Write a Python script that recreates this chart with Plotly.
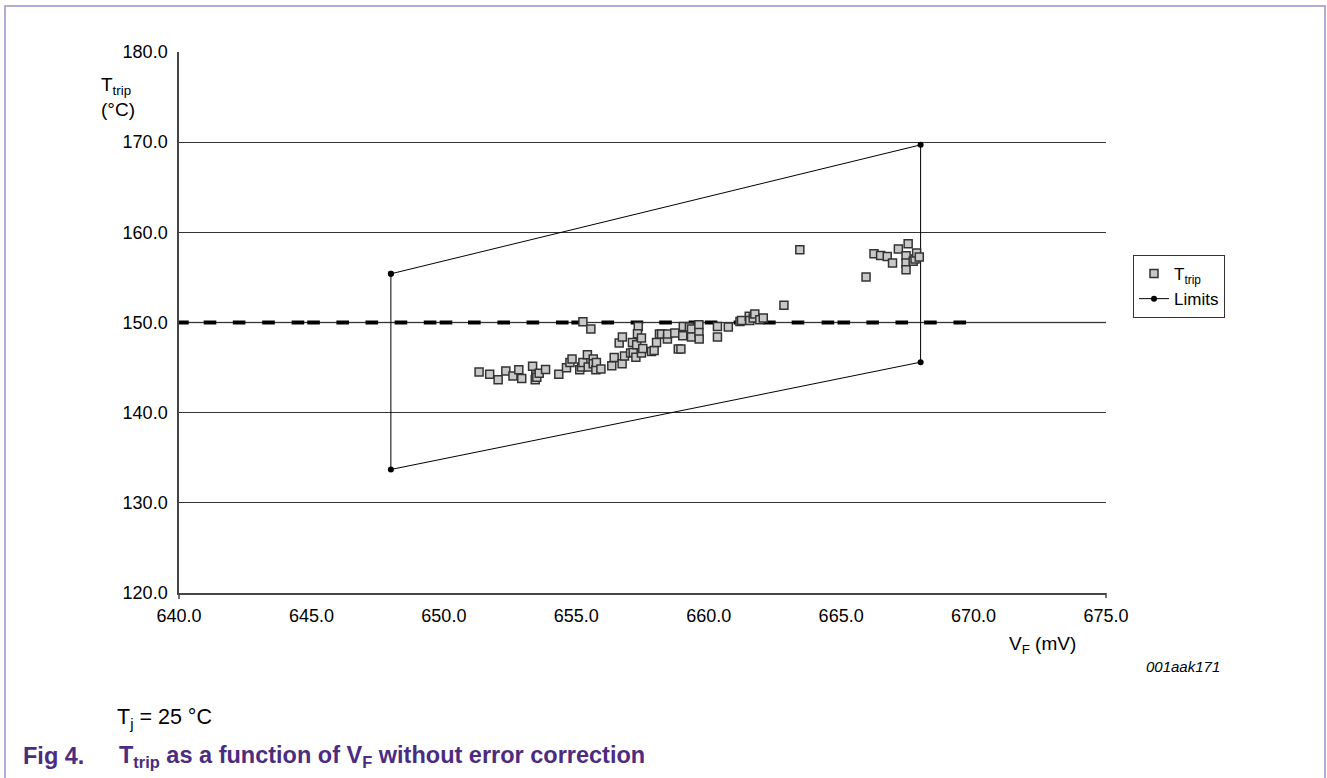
import plotly.graph_objects as go

# ---- data ----
vf_mv = [651.33, 651.73, 652.05, 652.34, 652.61, 652.83, 652.94, 653.35, 653.47, 653.45,
         653.51, 653.60, 653.84, 654.34, 654.63, 654.76, 654.84, 655.13, 655.20, 655.25,
         655.25, 655.42, 655.45, 655.55, 655.64, 655.64, 655.74, 655.76, 655.93, 656.34,
         656.43, 656.62, 656.74, 656.73, 656.82, 657.05, 657.12, 657.15, 657.25, 657.28,
         657.34, 657.31, 657.46, 657.46, 657.51, 657.84, 657.94, 658.03, 658.14, 658.22,
         658.44, 658.45, 658.72, 658.85, 658.95, 659.04, 659.02, 659.27, 659.35, 659.35,
         659.63, 659.63, 659.64, 660.33, 660.33, 660.74, 661.18, 661.24, 661.53, 661.55,
         661.68, 661.74, 661.93, 662.06, 662.84, 663.44, 665.94, 666.24, 666.49, 666.74,
         666.94, 667.16, 667.45, 667.45, 667.45, 667.53, 667.72, 667.79, 667.85, 667.95]
t_trip = [144.52, 144.27, 143.66, 144.63, 144.08, 144.76, 143.80, 145.15, 144.21, 143.66,
          143.93, 144.38, 144.80, 144.27, 144.99, 145.57, 145.95, 144.76, 145.06, 145.57,
          150.09, 146.43, 145.06, 149.28, 145.95, 145.43, 144.76, 145.57, 144.84, 145.21,
          146.12, 147.73, 148.39, 145.43, 146.28, 146.62, 147.79, 146.68, 146.15, 147.54,
          149.57, 148.76, 148.28, 146.62, 147.12, 146.79, 146.90, 147.77, 148.72, 148.72,
          148.17, 148.72, 148.83, 147.06, 147.06, 149.57, 148.54, 149.51, 149.28, 148.40,
          149.75, 148.89, 148.17, 149.57, 148.39, 149.50, 150.12, 150.23, 150.68, 150.23,
          150.50, 150.94, 150.31, 150.50, 151.90, 158.07, 155.05, 157.63, 157.44, 157.33,
          156.60, 158.15, 157.41, 156.60, 155.85, 158.74, 156.78, 157.04, 157.71, 157.26]

limits_vf = [648.0, 668.0, 668.0, 648.0, 648.0]
limits_t = [155.4, 169.7, 145.6, 133.7, 155.4]

target_vf = [640.13, 641.17, 642.27, 643.38, 644.49, 645.08, 646.18, 647.28, 648.38, 649.48,
             650.08, 651.15, 652.26, 653.36, 654.47, 655.05, 656.19, 657.29, 658.37, 659.48,
             660.09, 661.18, 662.29, 663.37, 664.50, 665.10, 666.19, 667.29, 668.37, 669.48]
target_t = [150.0] * len(target_vf)

x_ticks = [640, 645, 650, 655, 660, 665, 670, 675]
y_ticks = [120, 130, 140, 150, 160, 170, 180]

FONT = "Arial, 'Liberation Sans', sans-serif"
PURPLE = "#4b2c80"

# ---- layout geometry (pixels) ----
W, H = 1327, 778
L, R, T, B = 179, 221, 52, 185
PW, PH = W - L - R, H - T - B


def px(p):
    return (p - L) / PW


def py(p):
    return (H - B - p) / PH


fig = go.Figure()

fig.add_trace(go.Scatter(
    x=target_vf, y=target_t, mode="markers", showlegend=False, hoverinfo="skip",
    marker=dict(symbol="line-ew", size=9, color="black", line=dict(width=4, color="black")),
))

fig.add_trace(go.Scatter(
    x=limits_vf, y=limits_t, mode="lines+markers", name="Limits",
    line=dict(color="black", width=1),
    marker=dict(symbol="circle", size=6, color="black"),
))

fig.add_trace(go.Scatter(
    x=vf_mv, y=t_trip, mode="markers", name="T<sub>trip</sub>",
    marker=dict(symbol="square", size=8, color="#c8c8c8", line=dict(width=1.5, color="#333333")),
))

fig.update_layout(
    width=W, height=H,
    margin=dict(l=L, r=R, t=T, b=B, autoexpand=False),
    paper_bgcolor="white", plot_bgcolor="white",
    font=dict(family=FONT, size=18, color="black"),
    showlegend=True,
    legend=dict(
        x=px(1133), y=py(255), xanchor="left", yanchor="top",
        bordercolor="#333333", borderwidth=1, bgcolor="white",
        font=dict(size=17), traceorder="reversed",
        tracegroupgap=0,
    ),
    xaxis=dict(
        range=[640, 675], tickvals=x_ticks, ticktext=[f"{v:.1f}" for v in x_ticks],
        showgrid=False, zeroline=False, showline=True, linecolor="#444444", linewidth=1.5,
        ticks="", tickfont=dict(size=18), ticklabelstandoff=6,
    ),
    yaxis=dict(
        range=[120, 180], tickvals=y_ticks, ticktext=[f"{v:.1f}" for v in y_ticks],
        showgrid=True, gridcolor="#333333", gridwidth=1, zeroline=False,
        showline=True, linecolor="#444444", linewidth=1.5,
        ticks="", tickfont=dict(size=18), ticklabelstandoff=6,
    ),
    shapes=[
        dict(type="line", xref="paper", yref="y", x0=0, x1=1, y0=150, y1=150,
             line=dict(color="#8a8a8a", width=1.5), layer="between"),
        dict(type="line", xref="paper", yref="paper", x0=0, x1=0, y0=0, y1=py(599),
             line=dict(color="#444444", width=1.5)),
        dict(type="line", xref="paper", yref="paper", x0=1, x1=1, y0=0, y1=py(598),
             line=dict(color="#444444", width=1.5)),
        dict(type="rect", xref="paper", yref="paper", x0=px(5), x1=px(1325), y0=py(800), y1=py(6),
             line=dict(color="#a090c8", width=1.5), fillcolor="rgba(0,0,0,0)", layer="below"),
    ],
    annotations=[
        dict(text="T<sub>trip</sub><br>(°C)", x=px(99), y=py(97), xref="paper", yref="paper",
             xanchor="left", yanchor="middle", align="left", showarrow=False, font=dict(size=19)),
        dict(text="V<sub>F</sub> (mV)", x=px(1007), y=py(645), xref="paper", yref="paper",
             xanchor="left", yanchor="middle", showarrow=False, font=dict(size=19)),
        dict(text="<i>001aak171</i>", x=px(1144), y=py(666), xref="paper", yref="paper",
             xanchor="left", yanchor="middle", showarrow=False, font=dict(size=15)),
        dict(text="T<sub>j</sub> = 25 °C", x=px(115), y=py(718), xref="paper", yref="paper",
             xanchor="left", yanchor="middle", showarrow=False, font=dict(size=21.5)),
        dict(text="<b>Fig 4.</b>", x=px(21), y=py(756), xref="paper", yref="paper",
             xanchor="left", yanchor="middle", showarrow=False, font=dict(size=23.5, color=PURPLE)),
        dict(text="<b>T<sub>trip</sub> as a function of V<sub>F</sub> without error correction</b>",
             x=px(117), y=py(756), xref="paper", yref="paper",
             xanchor="left", yanchor="middle", showarrow=False, font=dict(size=23.5, color=PURPLE)),
    ],
)

fig.write_html("out.html", config={"displayModeBar": False},
               post_script="document.body.style.margin='0';document.body.style.overflow='hidden';")
